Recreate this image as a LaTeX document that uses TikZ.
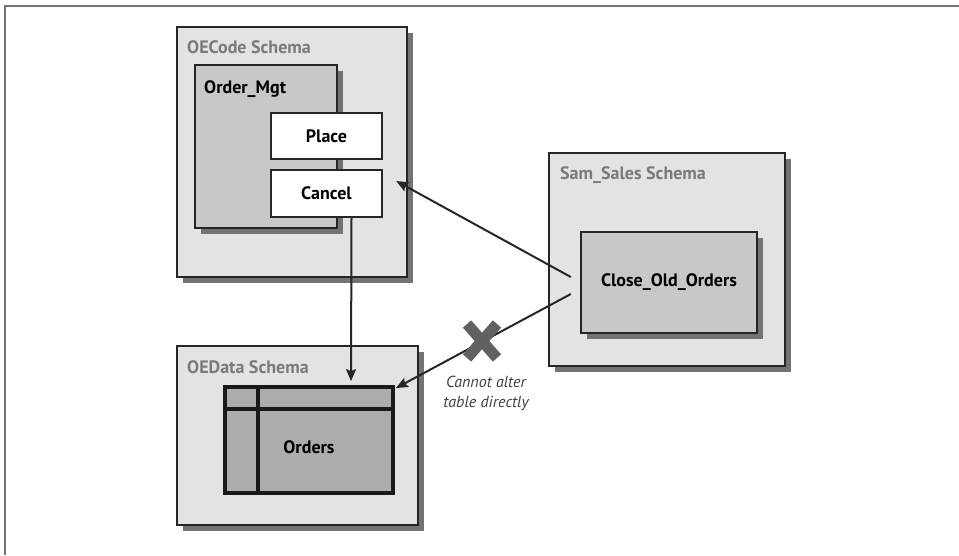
\documentclass[tikz,border=0pt]{standalone}
\usepackage{fontspec}
\setmainfont{PT Sans}
\usetikzlibrary{arrows.meta, shadows, calc}

\begin{document}
\begin{tikzpicture}[x=1pt, y=-1pt,
    box/.style={rectangle, inner sep=0pt, draw=black!85, line width=2.4pt},
    shade/.style={drop shadow={shadow xshift=6pt, shadow yshift=-6pt, fill=black!55, opacity=1}},
    schema/.style={box, fill=gray!22, shade},
    pkg/.style={box, fill=gray!43, shade},
    proc/.style={box, fill=white},
    title/.style={anchor=base west, inner sep=0pt, font=\fontsize{18}{20}\selectfont\bfseries},
    grey title/.style={title, text=black!52},
    lbl/.style={font=\fontsize{18}{20}\selectfont\bfseries},
    arr/.style={-{Stealth[length=12pt, width=10pt, inset=2pt]}, line width=2pt, black!85},
    tbl/.style={line width=3.8pt, black!90}
]
    \useasboundingbox (0,0) rectangle (959,555);

    % Page frame
    \draw[line width=2pt, black!55] (5,555) |- (959,6);

    % OECode schema
    \node[schema, minimum width=230pt, minimum height=250pt] (oecode) at (292,152) {};
    \node[grey title] (oecodelbl) at (187,53) {OECode Schema};
    \node[pkg, minimum width=142pt, minimum height=163pt] (ordermgt) at (266,146.5) {};
    \node[title] (ordermgtlbl) at (204,93) {Order\_Mgt};
    \node[proc, lbl, minimum width=111pt, minimum height=46pt] (place) at (326.5,136) {Place};
    \node[proc, lbl, minimum width=111pt, minimum height=47pt] (cancel) at (326.5,193.5) {Cancel};

    % Sam_Sales schema
    \node[schema, minimum width=236pt, minimum height=213pt] (samsales) at (667,259.5) {};
    \node[grey title] (samsaleslbl) at (560,179) {Sam\_Sales Schema};
    \node[pkg, lbl, minimum width=176pt, minimum height=101pt] (close) at (669,282.5) {Close\_Old\_Orders};

    % OEData schema
    \node[schema, minimum width=241pt, minimum height=179pt] (oedata) at (297.5,435.5) {};
    \node[grey title] (oedatalbl) at (187,373) {OEData Schema};

    % Orders table
    \node[rectangle, inner sep=0pt, fill=gray!64, draw=black!90, line width=3.8pt,
        minimum width=168pt, minimum height=106pt] (orders) at (309,440) {};
    \draw[tbl] ($(orders.north west)+(0,24)$) -- ($(orders.north east)+(0,24)$);
    \draw[tbl] ($(orders.north west)+(35,0)$) -- ($(orders.south west)+(35,0)$);
    \node[lbl] (orderslbl) at ($(orders.center)+(0,7)$) {Orders};

    % Calls
    \coordinate (callout) at ($(close.west)+(-9,-5.5)$);
    \coordinate (callin) at ($(cancel.east)+(13,-12.5)$);
    \coordinate (tblout) at ($(close.west)+(-9,11.5)$);
    \coordinate (tblin) at ($(orders.north east)+(1,3)$);
    \coordinate (cancelout) at ($(cancel.south)+(25,0)$);
    \coordinate (ordersin) at ($(orders.north)+(42,-4)$);

    \draw[arr] (callout) -- (callin);
    \draw[arr] (tblout) -- (tblin);
    \draw[arr] (cancelout) -- (ordersin);

    % Blocked access
    \node[inner sep=0pt] (nox) at (482,341) {};
    \draw[line width=11pt, black!62]
        ($(nox)+(-15,-17)$) -- ($(nox)+(15,17)$)
        ($(nox)+(-15,17)$) -- ($(nox)+(15,-17)$);
    \node[align=center, text=black!75, font=\fontsize{16}{20}\selectfont\itshape]
        (note) at (486,393) {Cannot alter\\table directly};
\end{tikzpicture}
\end{document}
